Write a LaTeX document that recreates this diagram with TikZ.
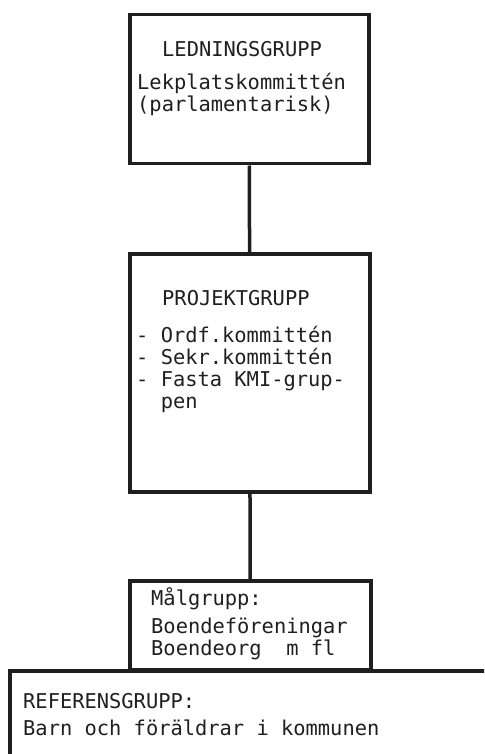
\documentclass[tikz,border=0pt]{standalone}
\usepackage{fontspec}
\setmonofont{DejaVu Sans Mono}
\usetikzlibrary{positioning}
\tikzstyle{box} = [draw, rectangle, line width=3.5pt, inner sep=0pt, anchor=north west]
\tikzstyle{txt} = [font=\ttfamily\fontsize{20.4}{22}\selectfont, inner sep=0pt, anchor=base west, align=left]

\begin{document}
\begin{tikzpicture}[x=1pt,y=-1pt,color=black!88]
    \useasboundingbox (0,0) rectangle (484,754);
    \clip (0,0) rectangle (484,754);
    % boxes
    \node [box, minimum width=239, minimum height=149] (led) at (128,13) {};
    \node [box, minimum width=240, minimum height=238] (proj) at (128,252) {};
    \node [box, minimum width=600, minimum height=200] (ref) at (8,669) {};
    \node [box, fill=white, minimum width=241, minimum height=89] (mal) at (128,579) {};
    \draw [line width=3.5pt] (led) -- (proj);
    \draw [line width=3.5pt] (proj) -- (mal);
    % texts (base = last line)
    \node [txt] (ledhead) at (162,57) {LEDNINGSGRUPP};
    \node [txt] (ledtext) at (137,112) {Lekplatskommittén\\(parlamentarisk)};
    \node [txt] (projhead) at (162,305) {PROJEKTGRUPP};
    \node [txt] (projtext) at (136,408) {- Ordf.kommittén\\- Sekr.kommittén\\- Fasta KMI-grup-\\\hphantom{xx}pen};
    \node [txt] (malhead) at (151,605) {Målgrupp:};
    \node [txt] (maltext) at (151,655) {Boendeföreningar\\Boendeorg\ \ m fl};
    \node [txt] (refhead) at (23,708) {REFERENSGRUPP:};
    \node [txt] (reftext) at (23,735) {Barn och föräldrar i kommunen};
\end{tikzpicture}
\end{document}
